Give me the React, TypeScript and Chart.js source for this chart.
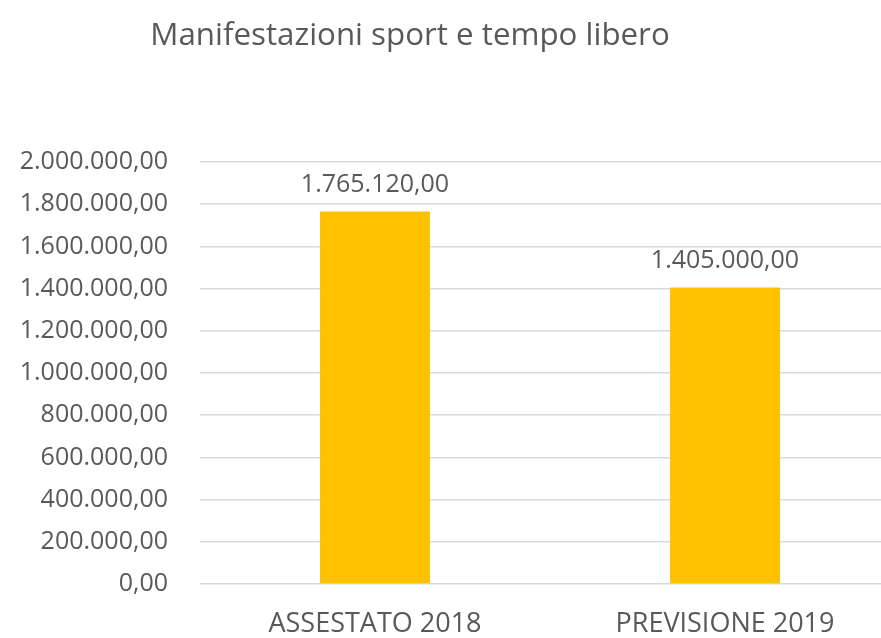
import React, { useEffect, useRef } from "react";
import { Chart, registerables } from "chart.js";

Chart.register(...registerables);

const chartTitle = "Manifestazioni sport e tempo libero";
const categories = ["ASSESTATO 2018", "PREVISIONE 2019"];
const values = [1765120, 1405000];
const yMin = 0;
const yMax = 2000000;
const yStep = 200000;

const FONT = "'Open Sans', 'Noto Sans', sans-serif";
const TEXT = "#595959";

function fmt(v: number): string {
  const neg = v < 0;
  const abs = Math.abs(v);
  const fixed = abs.toFixed(2);
  const [intPart, dec] = fixed.split(".");
  const withDots = intPart.replace(/\B(?=(\d{3})+(?!\d))/g, ".");
  return (neg ? "-" : "") + withDots + "," + dec;
}

const titlePlugin = {
  id: "customTitle",
  afterDraw(chart: any) {
    const { ctx, chartArea } = chart;
    ctx.save();
    ctx.font = `31.3px ${FONT}`;
    ctx.fillStyle = TEXT;
    ctx.textAlign = "center";
    ctx.textBaseline = "middle";
    const x = chartArea.left + (chartArea.right - chartArea.left) * 0.3;
    ctx.fillText(chartTitle, x, 36);
    ctx.restore();
  },
};

const valueLabels = {
  id: "valueLabels",
  afterDatasetsDraw(chart: any) {
    const { ctx } = chart;
    const meta = chart.getDatasetMeta(0);
    ctx.save();
    ctx.font = `25px ${FONT}`;
    ctx.fillStyle = TEXT;
    ctx.textAlign = "center";
    ctx.textBaseline = "middle";
    meta.data.forEach((bar: any, i: number) => {
      ctx.fillText(fmt(values[i]), bar.x, bar.y - 27);
    });
    ctx.restore();
  },
};

export default function App() {
  const ref = useRef<HTMLCanvasElement>(null);
  useEffect(() => {
    if (!ref.current) return;
    const chart = new Chart(ref.current, {
      type: "bar",
      data: {
        labels: categories,
        datasets: [
          {
            data: values,
            backgroundColor: "#FFC000",
            borderWidth: 0,
            barPercentage: 0.314,
            categoryPercentage: 1,
          },
        ],
      },
      options: {
        responsive: false,
        animation: false,
        layout: { padding: { top: 162, right: 40, left: 0, bottom: 0 } },
        plugins: {
          legend: { display: false },
          title: { display: false },
          tooltip: { enabled: false },
        },
        scales: {
          x: {
            grid: { display: false, drawTicks: false },
            border: { display: false },
            ticks: {
              color: TEXT,
              font: { family: FONT, size: 27 },
              padding: 24,
            },
            afterFit: (s: any) => {
              s.height = 54;
            },
          },
          y: {
            min: yMin,
            max: yMax,
            grid: { color: "#D9D9D9", lineWidth: 1.5, drawTicks: false },
            border: { display: false },
            ticks: {
              stepSize: yStep,
              color: TEXT,
              font: { family: FONT, size: 25 },
              padding: 32,
              callback: (v: any) => fmt(Number(v)),
            },
            afterFit: (s: any) => {
              s.width = 200;
            },
          },
        },
      },
      plugins: [titlePlugin, valueLabels],
    });
    return () => chart.destroy();
  }, []);
  return (
    <div
      style={{
        position: "fixed",
        left: 0,
        top: 0,
        width: 881,
        height: 638,
        overflow: "hidden",
        background: "#ffffff",
      }}
    >
      <canvas ref={ref} width={940} height={638} />
    </div>
  );
}
